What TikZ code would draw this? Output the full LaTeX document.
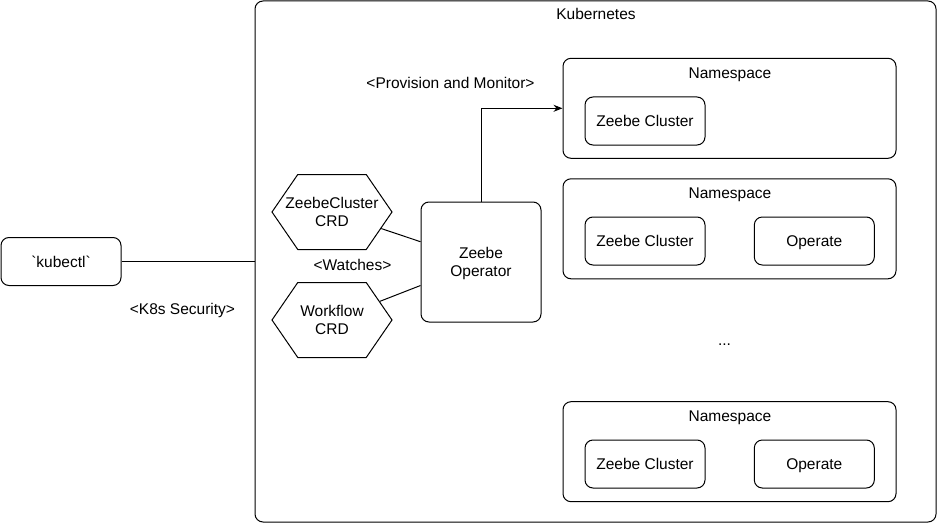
\documentclass[tikz,border=0pt]{standalone}
\usepackage{fontspec}
\setmainfont{Liberation Sans}
\newfontfamily\rawfont{Liberation Sans}
\usetikzlibrary{shapes.symbols,arrows.meta}

\begin{document}
\begin{tikzpicture}[x=1pt, y=-1pt,
        every node/.style={font=\fontsize{15.5}{18.5}\selectfont, inner sep=0pt, text height=14pt, text depth=3pt},
        twoline/.style={align=center, text height=32.5pt, text depth=3pt},
        box/.style={draw, line width=1pt, rounded corners=8pt, minimum width=120pt, minimum height=48pt},
        nsbox/.style={draw, line width=1pt, rounded corners=8pt, minimum width=333pt, minimum height=100pt},
        crd/.style={draw, line width=1pt, signal, signal to=east and west, signal pointer angle=111,
                    minimum width=120pt, minimum height=75pt},
        link/.style={line width=1pt}]
        \useasboundingbox (0,0) rectangle (939,524);
        % cluster frame
        \node[draw, line width=1pt, rounded corners=8pt, minimum width=681pt, minimum height=521pt] (k8s) at (595.5,261.5) {};
        \node (k8stitle) at (596,14) {Kubernetes};
        % client
        \node[box] (kubectl) at (61,261.5) {\rawfont `kubectl`};
        \node (security) at (182.5,309) {<K8s Security>};
        % operator and crds
        \node[box, twoline, minimum height=120pt] (operator) at (481,262) {Zeebe\\Operator};
        \node[crd] (zccrd) at (332,212) {};
        \node[twoline] (zccrdtext) at (zccrd) {ZeebeCluster\\CRD};
        \node[crd] (wfcrd) at (332,320) {};
        \node[twoline] (wfcrdtext) at (wfcrd) {Workflow\\CRD};
        \node (watches) at (352.5,265) {<Watches>};
        \node (provision) at (450.5,83) {<Provision and Monitor>};
        % namespaces
        \node[nsbox] (ns1) at (729.5,108.3) {};
        \node (ns1title) at (730,73) {Namespace};
        \node[box] (zc1) at (645,121) {Zeebe Cluster};
        \node[nsbox] (ns2) at (729.5,228.8) {};
        \node (ns2title) at (730,193) {Namespace};
        \node[box] (zc2) at (645,241) {Zeebe Cluster};
        \node[box] (operate2) at (814.3,241) {Operate};
        \node (dots) at (724.5,339.5) {...};
        \node[nsbox] (ns3) at (729.5,451.7) {};
        \node (ns3title) at (730,416) {Namespace};
        \node[box] (zc3) at (645,464) {Zeebe Cluster};
        \node[box] (operate3) at (814.3,464) {Operate};
        % connectors
        \draw[link] (kubectl) -- (k8s);
        \draw[link] (zccrd) -- (operator);
        \draw[link] (wfcrd) -- (operator);
        \draw[link, -{Stealth[length=9pt, width=7pt]}] (operator.north) |- (ns1.west);
\end{tikzpicture}
\end{document}
